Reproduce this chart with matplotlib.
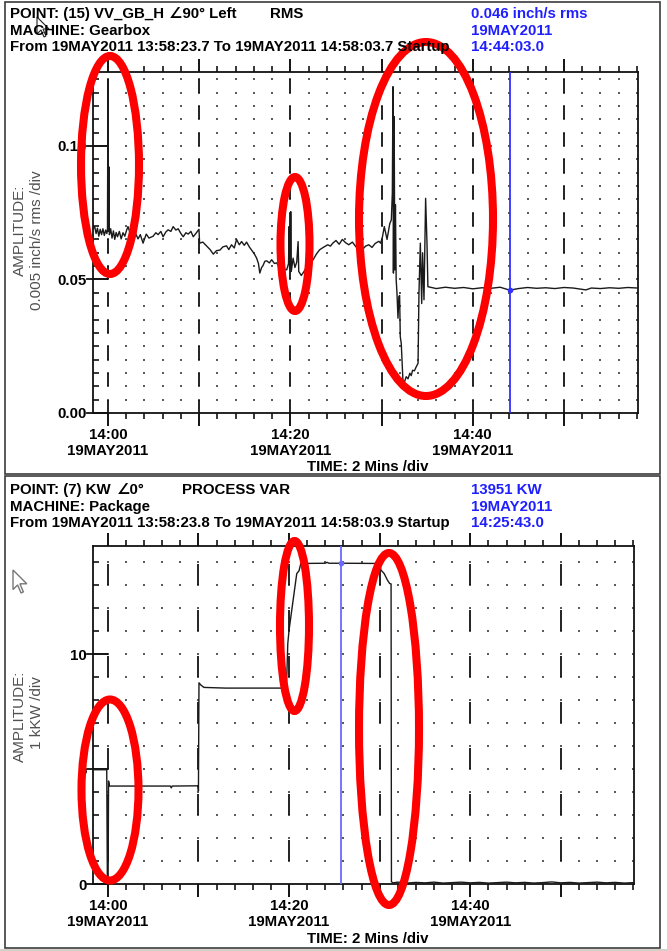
import matplotlib
matplotlib.use('Agg')
import matplotlib.pyplot as plt
from matplotlib.patches import Ellipse, Rectangle, Polygon
import numpy as np

# Figure size in pixels (dpi 100)
W, H = 667, 951

plt.rcParams['font.family'] = ['Liberation Sans', 'DejaVu Sans']
plt.rcParams['lines.scale_dashes'] = False

# Vibration trend, minutes after 14:00 and inch/s rms
vib_t = [-1.60, -1.45, -1.30, -1.15, -1.00, -0.85, -0.70, -0.55, -0.40, -0.25,
         -0.12, -0.05, 0.00, 0.04, 0.10, 0.16, 0.30, 0.45, 0.60, 0.75,
         0.90, 1.05, 1.25, 1.45, 1.65, 1.85, 2.05, 2.20, 2.45, 2.75,
         3.00, 3.30, 3.55, 3.85, 4.20, 4.50, 4.95, 5.25, 5.50, 5.80,
         6.05, 6.35, 6.60, 6.90, 7.15, 7.45, 7.70, 8.00, 8.25, 8.55,
         8.80, 9.10, 9.35, 9.70, 9.98, 10.05, 10.40, 10.80, 11.20, 11.55,
         11.90, 12.28, 12.60, 13.00, 13.25, 13.55, 13.85, 14.10, 14.40, 14.65,
         14.95, 15.20, 15.50, 15.75, 16.05, 16.30, 16.50, 16.65, 16.85, 17.00,
         17.20, 17.40, 17.70, 17.95, 18.25, 18.50, 18.80, 19.05, 19.30, 19.60,
         19.80, 19.86, 19.92, 20.00, 20.04, 20.10, 20.30, 20.50, 20.70, 20.85,
         20.92, 21.20, 21.50, 21.80, 22.10, 22.50, 22.85, 23.20, 23.60, 24.10,
         24.40, 24.65, 25.00, 25.35, 25.70, 26.05, 26.40, 26.80, 27.20, 27.55,
         27.90, 28.25, 28.60, 28.95, 29.30, 29.70, 29.90, 30.10, 30.30, 30.60,
         30.90, 31.07, 31.18, 31.25, 31.30, 31.38, 31.45, 31.52, 31.60, 31.69,
         31.80, 31.90, 31.98, 32.05, 32.16, 32.27, 32.34, 32.50, 32.70, 32.90,
         33.10, 33.25, 33.40, 33.60, 33.80, 34.00, 34.10, 34.25, 34.40, 34.50,
         34.65, 34.83, 34.98, 35.08, 36.00, 37.00, 38.00, 39.00, 40.00, 41.00,
         42.00, 43.00, 44.05, 45.00, 46.00, 47.00, 48.00, 49.00, 50.00, 51.00,
         52.40, 53.00, 54.00, 55.00, 56.00, 57.00, 58.06]
vib_v = [0.0690, 0.0698, 0.0672, 0.0692, 0.0662, 0.0688, 0.0668, 0.0690, 0.0665, 0.0685,
         0.0672, 0.0688, 0.1245, 0.0680, 0.0922, 0.0668, 0.0690, 0.0655, 0.0682, 0.0650,
         0.0676, 0.0660, 0.0680, 0.0652, 0.0675, 0.0662, 0.0685, 0.0698, 0.0672, 0.0660,
         0.0675, 0.0652, 0.0668, 0.0636, 0.0670, 0.0655, 0.0662, 0.0675, 0.0668, 0.0680,
         0.0660, 0.0678, 0.0686, 0.0680, 0.0698, 0.0685, 0.0690, 0.0672, 0.0660, 0.0675,
         0.0670, 0.0680, 0.0660, 0.0675, 0.0688, 0.0636, 0.0640, 0.0626, 0.0612, 0.0595,
         0.0608, 0.0610, 0.0622, 0.0626, 0.0612, 0.0630, 0.0618, 0.0650, 0.0630, 0.0642,
         0.0628, 0.0640, 0.0622, 0.0610, 0.0596, 0.0580, 0.0560, 0.0524, 0.0545, 0.0552,
         0.0568, 0.0570, 0.0562, 0.0574, 0.0560, 0.0562, 0.0545, 0.0524, 0.0540, 0.0536,
         0.0560, 0.0698, 0.0540, 0.0560, 0.0754, 0.0530, 0.0580, 0.0545, 0.0565, 0.0642,
         0.0530, 0.0515, 0.0530, 0.0548, 0.0560, 0.0574, 0.0595, 0.0611, 0.0620, 0.0630,
         0.0625, 0.0636, 0.0646, 0.0632, 0.0650, 0.0638, 0.0630, 0.0640, 0.0622, 0.0618,
         0.0612, 0.0625, 0.0630, 0.0620, 0.0635, 0.0643, 0.0636, 0.0660, 0.0698, 0.0650,
         0.0709, 0.0723, 0.0824, 0.1222, 0.0524, 0.1110, 0.0536, 0.0780, 0.0500, 0.0449,
         0.0355, 0.0436, 0.0440, 0.0286, 0.0260, 0.0173, 0.0124, 0.0115, 0.0136, 0.0128,
         0.0149, 0.0140, 0.0160, 0.0158, 0.0173, 0.0186, 0.0449, 0.0636, 0.0410, 0.0600,
         0.0424, 0.0804, 0.0636, 0.0473, 0.0466, 0.0471, 0.0467, 0.0470, 0.0465, 0.0469,
         0.0467, 0.0471, 0.0460, 0.0466, 0.0470, 0.0467, 0.0469, 0.0466, 0.0470, 0.0468,
         0.0461, 0.0468, 0.0466, 0.0469, 0.0467, 0.0470, 0.0468]

# Process variable trend, minutes after 14:00 and kKW
kw_t = [-1.60, -0.12, -0.05, 0.03, 0.08, 0.18, 3.00, 6.90, 7.00, 7.10,
        9.95, 10.00, 10.06, 10.25, 10.60, 13.00, 16.00, 19.40, 19.72, 19.86,
        20.00, 20.50, 20.85, 21.10, 21.30, 24.00, 24.20, 24.40, 25.72, 30.00,
        30.15, 30.50, 30.85, 31.10, 31.26, 31.30, 31.45, 32.00, 33.00, 34.00,
        35.00, 36.00, 37.00, 38.00, 39.00, 40.00, 41.00, 42.00, 43.00, 44.00,
        45.00, 46.00, 47.00, 48.00, 49.00, 50.00, 51.00, 52.00, 53.00, 54.00,
        55.00, 56.00, 57.00, 58.10]
kw_v = [4.97, 4.97, 0.02, 0.00, 4.48, 4.26, 4.26, 4.26, 4.18, 4.26,
        4.27, 4.05, 8.75, 8.66, 8.55, 8.52, 8.52, 8.52, 8.62, 10.45,
        11.04, 12.49, 13.50, 13.62, 13.94, 13.95, 13.99, 13.95, 13.951, 13.94,
        13.65, 13.50, 13.22, 13.07, 13.05, 0.10, 0.05, 0.08, 0.04, 0.07,
        0.05, 0.08, 0.04, 0.06, 0.08, 0.05, 0.07, 0.04, 0.06, 0.08,
        0.05, 0.07, 0.04, 0.06, 0.09, 0.05, 0.07, 0.04, 0.06, 0.08,
        0.05, 0.07, 0.04, 0.06]

# Axis labels and cursor readouts
tick_times = [0, 20, 40]
tick_names = ['14:00', '14:20', '14:40']
date_name = '19MAY2011'
vib_ticks = [0.0, 0.05, 0.10]
kw_ticks = [0, 5, 10]
vib_cursor = (44.05, 0.046)
kw_cursor = (25.717, 13.951)

BOLD = dict(fontweight='bold', fontsize=10.8)


def px_axes(fig, left, top, right, bottom):
    """Add axes placed by pixel edges (y measured from the top)."""
    return fig.add_axes([left / W, 1 - bottom / H, (right - left) / W, (bottom - top) / H])


def trend_axes(ax, t0, t1, ymax, ystep, yticks, yfmt, dash_lo, dash_len, dash_period):
    ax.set_xlim(t0, t1)
    ax.set_ylim(0, ymax)
    for s in ax.spines.values():
        s.set_linewidth(1.3)
        s.set_color('#111111')

    # time axis: 10 minute majors, 2 minute minors, on top and bottom
    ax.set_xticks(np.arange(0, 60, 10))
    ax.set_xticks(np.arange(0, 60, 2), minor=True)
    ax.set_xticklabels([''] * 6)
    ax.tick_params(axis='x', which='major', direction='out', length=9.5, width=1.3,
                   top=True, bottom=True, labelbottom=False)
    ax.tick_params(axis='x', which='minor', direction='out', length=4.5, width=1.1,
                   top=True, bottom=True)

    # amplitude axis
    ax.set_yticks(yticks)
    ax.set_yticks(np.arange(0, ymax, ystep), minor=True)
    ax.set_yticklabels([yfmt.format(v) for v in yticks], **BOLD)
    ax.tick_params(axis='y', which='major', direction='in', length=11, width=1.3,
                   pad=5, left=True, right=False)
    ax.tick_params(axis='y', which='minor', direction='in', length=4.5, width=1.1,
                   left=True, right=False)
    for v in yticks:
        ax.plot([-0.012, 0], [v, v], transform=ax.get_yaxis_transform(),
                color='#111111', lw=1.3, clip_on=False)

    # dotted grid
    gx, gy = np.meshgrid(np.arange(0, 60, 2), np.arange(ystep, ymax, ystep))
    ax.scatter(gx.ravel(), gy.ravel(), s=1.6, marker='s', lw=0, color='#5a5a5a', zorder=1)

    # dashed 10 minute lines
    lows = np.arange(dash_lo, ymax, dash_period)
    for t in range(0, 60, 10):
        ax.vlines([t] * len(lows), lows, np.minimum(lows + dash_len, ymax),
                  color='#111111', lw=1.3, zorder=2)

    # time labels below
    for t, name in zip(tick_times, tick_names):
        ax.text(t, -0.045, name + '\n' + date_name, transform=ax.get_xaxis_transform(),
                ha='center', va='top', linespacing=1.15, **BOLD)


fig = plt.figure(figsize=(W / 100, H / 100), dpi=100)
fig.patch.set_facecolor('white')

ax1 = px_axes(fig, 93.3, 72, 637.5, 413)
trend_axes(ax1, -1.605, 58.06, 0.1277, 0.005, vib_ticks, '{:.2f}', 0.0, 0.005, 0.01)
ax1.plot(vib_t, vib_v, color='#1a1a1a', lw=1.0, zorder=3)
ax1.axvline(vib_cursor[0], color='#3030ff', lw=1.3, zorder=4)
ax1.plot(*vib_cursor, marker='o', ms=3, color='#3030ff', zorder=5)

ax2 = px_axes(fig, 93.3, 546, 634, 884)
trend_axes(ax2, -1.603, 58.07, 14.7, 1, kw_ticks, '{:d}', 1.0, 0.9, 2.0)
ax2.plot(kw_t, kw_v, color='#1a1a1a', lw=1.0, zorder=3)
ax2.axvline(kw_cursor[0], color='#6a6aff', lw=1.3, zorder=4)
ax2.plot(*kw_cursor, marker='o', ms=3, color='#6a6aff', zorder=5)

# overlay in pixel units for headers, frames and markings
ov = fig.add_axes([0, 0, 1, 1], zorder=10)
ov.set_xlim(0, W)
ov.set_ylim(H, 0)
ov.axis('off')
ov.patch.set_alpha(0)

for top, bot in [(2, 474), (476, 948)]:
    ov.add_patch(Rectangle((5, top), 655, bot - top, fill=False, ec='#3c3c3c', lw=1.2))
ov.add_patch(Rectangle((0, 949), W, 2, color='#d4d0c8', lw=0))

blue = '#1f1fff'
headers = [
    (10, 14, 'POINT: (15) VV_GB_H', 'k'), (169, 14, '\u222090\u00b0 Left', 'k'),
    (270, 14, 'RMS', 'k'), (471, 14, '0.046 inch/s rms', blue),
    (10, 31, 'MACHINE: Gearbox', 'k'), (471, 31, date_name, blue),
    (10, 47, 'From 19MAY2011 13:58:23.7 To 19MAY2011 14:58:03.7 Startup', 'k'),
    (471, 47, '14:44:03.0', blue),
    (10, 490, 'POINT: (7) KW', 'k'), (117, 490, '\u22200\u00b0', 'k'),
    (182, 490, 'PROCESS VAR', 'k'), (471, 490, '13951 KW', blue),
    (10, 507, 'MACHINE: Package', 'k'), (471, 507, date_name, blue),
    (10, 523, 'From 19MAY2011 13:58:23.8 To 19MAY2011 14:58:03.9 Startup', 'k'),
    (471, 523, '14:25:43.0', blue),
]
for x, y, s, c in headers:
    ov.text(x, y, s, color=c, ha='left', va='center', **BOLD)

for y in (467, 939):
    ov.text(368, y, 'TIME: 2 Mins /div', ha='center', va='center', **BOLD)

ylab = dict(rotation=90, ha='center', va='center', color='#505050', fontsize=11)
ov.text(20, 230, 'AMPLITUDE:', **ylab)
ov.text(37, 240, '0.005 inch/s rms /div', **ylab)
ov.text(20, 716, 'AMPLITUDE:', **ylab)
ov.text(37, 713, '1 kKW /div', **ylab)

# mouse pointers
arrow = np.array([(0, 0), (0, 17), (4, 13), (7, 20), (9, 19), (6, 12), (12, 12)])
ov.add_patch(Polygon(arrow + (37, 17), closed=True, fc='white', ec='#222222', lw=0.8))
ov.add_patch(Polygon(arrow * 1.15 + (13, 570), closed=True, fc='white', ec='#777777', lw=1.0))

# red highlight rings
rings = [(110, 165, 58, 218), (295, 244, 29, 134), (426, 219, 134, 354),
         (110, 790, 57, 181), (294.5, 626, 29, 170), (389, 729, 60, 352)]
for cx, cy, w, h in rings:
    ov.add_patch(Ellipse((cx, cy), w, h, fill=False, ec='#ff0000', lw=5.8))

fig.savefig('out.png', dpi=100)
